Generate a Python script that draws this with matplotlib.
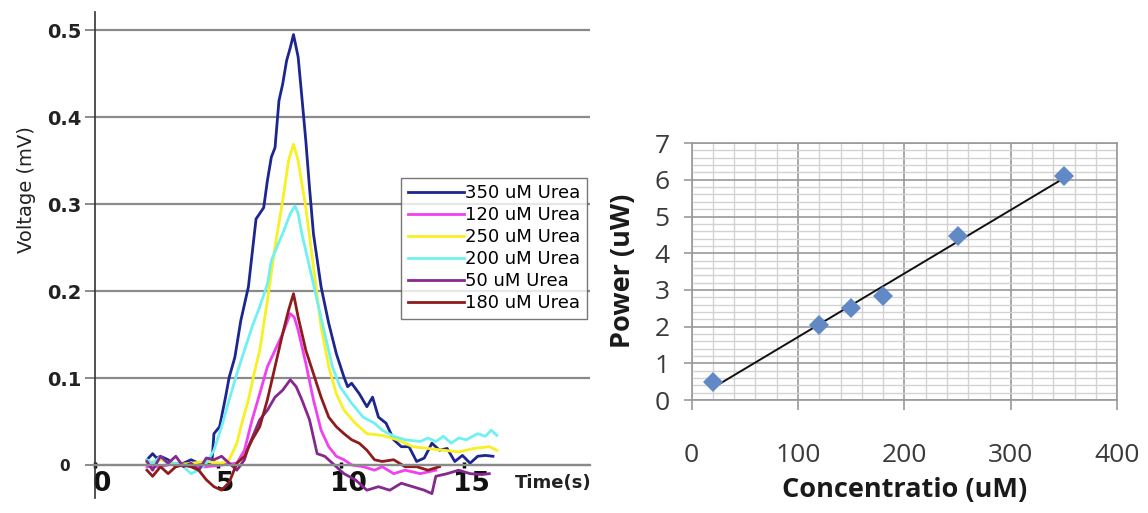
import matplotlib.pyplot as plt
import numpy as np
from matplotlib.transforms import ScaledTranslation

# ---- left panel: voltage transients for different urea concentrations ----
labels = ["350 uM Urea", "120 uM Urea", "250 uM Urea",
          "200 uM Urea", "50 uM Urea", "180 uM Urea"]
colors = ["#1c2590", "#f040f0", "#f8f020", "#70f0f0", "#86288e", "#8e1c1c"]

t350 = [2.11, 2.34, 2.50, 2.66, 2.97, 3.28, 3.59, 3.90, 4.21, 4.52, 4.75, 4.83, 5.06, 5.30, 5.45,
        5.68, 5.92, 6.23, 6.38, 6.54, 6.85, 7.00, 7.16, 7.31, 7.47, 7.62, 7.78, 7.93, 8.06, 8.17,
        8.25, 8.40, 8.56, 8.71, 8.87, 9.18, 9.49, 9.80, 10.11, 10.26, 10.42, 10.73, 11.04, 11.27,
        11.51, 11.82, 12.13, 12.44, 12.75, 13.06, 13.37, 13.68, 13.99, 14.30, 14.61, 14.92, 15.23,
        15.54, 15.85, 16.16]
v350 = [0.006, 0.013, 0.008, 0.010, 0.006, -0.002, 0.002, 0.006, 0.002, 0.000, 0.004, 0.036, 0.044,
        0.078, 0.101, 0.124, 0.166, 0.205, 0.243, 0.283, 0.296, 0.327, 0.354, 0.365, 0.419, 0.438,
        0.465, 0.480, 0.495, 0.480, 0.469, 0.423, 0.373, 0.319, 0.266, 0.205, 0.163, 0.128, 0.101,
        0.090, 0.094, 0.082, 0.067, 0.078, 0.055, 0.048, 0.029, 0.021, 0.021, 0.004, 0.008, 0.025,
        0.017, 0.019, 0.004, 0.011, 0.002, 0.010, 0.011, 0.010]

t120 = [2.11, 2.66, 3.28, 3.90, 4.52, 5.14, 5.76, 6.07, 6.38, 6.69, 7.00, 7.31, 7.62, 7.93, 8.09,
        8.25, 8.56, 8.87, 9.18, 9.49, 9.80, 10.11, 10.42, 10.89, 11.35, 11.66, 12.13, 12.59, 13.21,
        13.84]
v120 = [-0.002, -0.002, 0.002, -0.002, -0.002, 0.000, 0.002, 0.017, 0.052, 0.082, 0.113, 0.132,
        0.151, 0.174, 0.170, 0.155, 0.117, 0.075, 0.040, 0.021, 0.010, 0.006, 0.000, -0.002, -0.006,
        -0.002, -0.010, -0.006, -0.010, -0.006]

t250 = [2.11, 2.66, 3.28, 3.90, 4.52, 5.14, 5.45, 5.76, 6.00, 6.23, 6.46, 6.69, 7.00, 7.31, 7.62,
        7.86, 8.06, 8.25, 8.56, 8.87, 9.18, 9.49, 9.80, 10.11, 10.57, 11.04, 11.66, 12.28, 12.90,
        13.52, 14.15, 14.77, 15.39, 16.01, 16.32]
v250 = [0.002, 0.006, 0.000, 0.002, 0.004, 0.002, 0.006, 0.025, 0.052, 0.075, 0.105, 0.132, 0.189,
        0.251, 0.304, 0.350, 0.369, 0.350, 0.296, 0.228, 0.159, 0.113, 0.082, 0.063, 0.048, 0.036,
        0.034, 0.029, 0.021, 0.019, 0.017, 0.015, 0.019, 0.021, 0.017]

t200 = [2.11, 2.34, 2.66, 2.97, 3.28, 3.59, 3.90, 4.21, 4.52, 4.83, 5.14, 5.45, 5.76, 6.07, 6.38,
        6.69, 7.00, 7.16, 7.39, 7.62, 7.93, 8.12, 8.25, 8.40, 8.71, 9.02, 9.33, 9.64, 9.95, 10.42,
        10.89, 11.35, 11.66, 12.13, 12.59, 13.21, 13.52, 13.84, 14.15, 14.46, 14.77, 15.08, 15.54,
        15.85, 16.09, 16.32]
v200 = [0.006, 0.002, 0.010, 0.000, 0.002, -0.002, -0.010, -0.006, 0.002, 0.017, 0.044, 0.075,
        0.105, 0.132, 0.159, 0.182, 0.208, 0.235, 0.251, 0.266, 0.289, 0.298, 0.289, 0.266, 0.228,
        0.189, 0.151, 0.113, 0.090, 0.071, 0.055, 0.048, 0.040, 0.033, 0.029, 0.027, 0.031, 0.027,
        0.033, 0.025, 0.031, 0.029, 0.036, 0.033, 0.040, 0.034]

t50 = [2.11, 2.34, 2.66, 2.97, 3.28, 3.59, 3.90, 4.21, 4.52, 4.83, 5.14, 5.45, 5.76, 6.07, 6.23,
       6.69, 7.00, 7.31, 7.62, 7.93, 8.17, 8.40, 8.71, 9.02, 9.33, 9.64, 10.11, 10.57, 11.04, 11.51,
       11.97, 12.44, 12.90, 13.37, 13.68, 13.84, 14.30, 14.77, 15.23, 15.70, 16.01]
v50 = [0.004, -0.006, 0.010, 0.002, 0.010, -0.002, 0.002, -0.006, 0.008, 0.006, 0.010, 0.002,
       -0.006, 0.006, 0.021, 0.052, 0.063, 0.078, 0.086, 0.098, 0.090, 0.075, 0.052, 0.013, 0.010,
       0.002, -0.010, -0.017, -0.029, -0.025, -0.029, -0.021, -0.025, -0.029, -0.033, -0.013,
       -0.010, -0.006, -0.010, -0.011, -0.010]

t180 = [2.11, 2.34, 2.66, 2.97, 3.28, 3.59, 3.90, 4.21, 4.52, 4.83, 5.14, 5.45, 5.76, 6.07, 6.38,
        6.69, 7.00, 7.31, 7.62, 7.86, 8.06, 8.25, 8.56, 8.87, 9.18, 9.49, 9.80, 10.11, 10.42, 10.73,
        11.04, 11.35, 11.66, 12.13, 12.59, 13.06, 13.52, 13.99]
v180 = [-0.006, -0.013, -0.002, -0.010, -0.002, 0.000, -0.002, -0.006, -0.017, -0.025, -0.029,
        -0.020, 0.002, 0.010, 0.029, 0.044, 0.075, 0.113, 0.151, 0.178, 0.197, 0.170, 0.132, 0.105,
        0.078, 0.055, 0.044, 0.036, 0.029, 0.025, 0.017, 0.006, 0.004, 0.006, -0.002, -0.002,
        -0.006, -0.002]

times = [t350, t120, t250, t200, t50, t180]
volts = [v350, v120, v250, v200, v50, v180]

# ---- right panel: power vs concentration ----
conc = [20, 120, 150, 180, 250, 350]
power = [0.48, 2.05, 2.50, 2.83, 4.48, 6.10]

W, H = 1148, 513
fig = plt.figure(figsize=(W / 100, H / 100), dpi=100)

# left axes
ax1 = fig.add_axes([95 / W, 15 / H, 495 / W, 486 / H])
for t, v, c, lab in zip(times, volts, colors, labels):
    ax1.plot(t, v, color=c, lw=2.0, label=lab)

ax1.set_xlim(0, 20.1)
ax1.set_ylim(-0.038, 0.521)
ax1.spines['top'].set_visible(False)
ax1.spines['right'].set_visible(False)
ax1.spines['bottom'].set_position(('data', 0))
ax1.spines['bottom'].set_color('#8a8a8a')
ax1.spines['bottom'].set_linewidth(1.6)
ax1.spines['left'].set_color('#333333')
ax1.spines['left'].set_linewidth(1.2)

ax1.set_yticks([0, 0.1, 0.2, 0.3, 0.4, 0.5])
ax1.set_yticklabels(["0", "0.1", "0.2", "0.3", "0.4", "0.5"],
                    fontsize=14, fontweight='bold', color='#222222')
for lb in ax1.get_yticklabels():
    lb.set_horizontalalignment('center')
ax1.get_yticklabels()[0].set_fontsize(11)
ax1.tick_params(axis='y', direction='out', length=7, width=1.4, color='#8a8a8a', pad=15)
ax1.yaxis.grid(True, color='#8a8a8a', lw=1.6)
ax1.set_axisbelow(True)

ax1.set_xticks([0, 5, 10, 15])
ax1.set_xticklabels(["0", "5", "10", "15"], fontsize=19, fontweight='bold', color='#111111')
ax1.tick_params(axis='x', direction='inout', length=5, width=2.5, color='black', pad=2)
shift = ScaledTranslation(7 / 100, 0, fig.dpi_scale_trans)
for lb in ax1.get_xticklabels():
    lb.set_transform(lb.get_transform() + shift)

fig.text(515 / W, 1 - 483 / H, "Time(s)", fontsize=13, fontweight='bold',
         ha='left', va='center', color='#222222')
fig.text(27 / W, 1 - 190 / H, "Voltage (mV)", fontsize=14, rotation=90,
         ha='center', va='center', color='#222222')

leg = ax1.legend(loc='upper right', bbox_to_anchor=(587 / W, 1 - 178 / H),
                 bbox_transform=fig.transFigure, fontsize=13, frameon=True,
                 fancybox=False, handlelength=3.1, handletextpad=0.1,
                 labelspacing=0.22, borderpad=0.35, borderaxespad=0)
leg.get_frame().set_edgecolor('#555555')
leg.get_frame().set_linewidth(1.0)
for line in leg.get_lines():
    line.set_linewidth(2.0)

# right axes
x0, x1 = 691.6, 1117.3
y0, y1 = 400.0, 143.1
ax2 = fig.add_axes([x0 / W, 1 - y0 / H, (x1 - x0) / W, (y0 - y1) / H])
ax2.set_xlim(0, 400)
ax2.set_ylim(0, 7)
ax2.set_xticks(np.arange(0, 401, 100))
ax2.set_yticks(np.arange(0, 8, 1))
ax2.set_xticks(np.arange(0, 401, 20), minor=True)
ax2.set_yticks(np.arange(0, 7.01, 0.2), minor=True)
ax2.grid(True, which='minor', color='#d2d2d2', lw=1.0)
ax2.grid(True, which='major', color='#9a9a9a', lw=1.2)
ax2.set_axisbelow(True)
for s in ax2.spines.values():
    s.set_color('#9a9a9a')
    s.set_linewidth(1.2)
ax2.tick_params(which='minor', length=0)
ax2.tick_params(axis='x', which='major', length=7, width=1.2, color='#9a9a9a', pad=24)
ax2.tick_params(axis='y', which='major', length=6, width=1.2, color='#9a9a9a', pad=10)
for lb in ax2.get_xticklabels() + ax2.get_yticklabels():
    lb.set_family('Open Sans')
    lb.set_fontsize(19)
    lb.set_color('#3a3a3a')

slope, icpt = np.polyfit(conc, power, 1)
xfit = np.array([conc[0], conc[-1]])
ax2.plot(xfit, slope * xfit + icpt, color='#111111', lw=1.4, zorder=3)
ax2.plot(conc, power, 'D', color='#6189c6', markersize=10, markeredgewidth=0, zorder=4)

fig.text(905 / W, 1 - 490 / H, "Concentratio (uM)", family='Open Sans', fontsize=19.5,
         fontweight='bold', ha='center', va='center', color='#1a1a1a')
fig.text(623 / W, 1 - 271 / H, "Power (uW)", family='Open Sans', fontsize=19.5,
         fontweight='bold', rotation=90, ha='center', va='center', color='#1a1a1a')

fig.savefig("out.png", dpi=100)
